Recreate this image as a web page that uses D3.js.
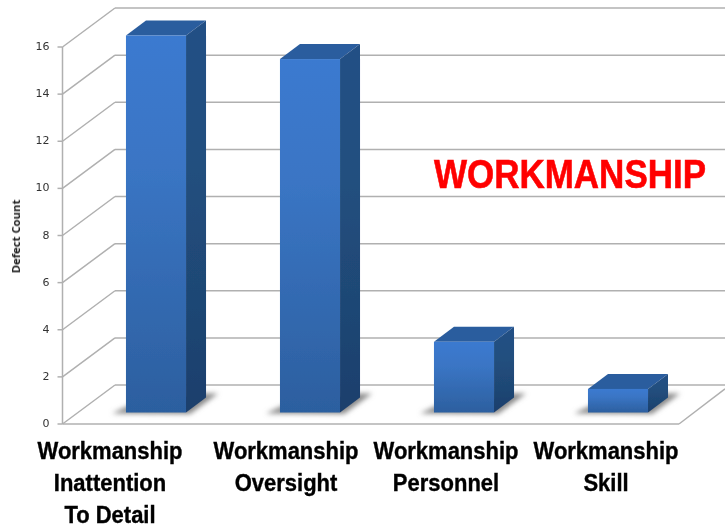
<!DOCTYPE html>
<html><head><meta charset="utf-8">
<script src="https://cdnjs.cloudflare.com/ajax/libs/d3/7.8.5/d3.min.js"></script>
<style>html,body{margin:0;padding:0;background:#fff}svg{display:block}</style>
</head><body><div id="c"></div>
<script>
const categories=[["Workmanship","Inattention","To Detail"],["Workmanship","Oversight"],["Workmanship","Personnel"],["Workmanship","Skill"]];
const values=[16,15,3,1];
const yTicks=[0,2,4,6,8,10,12,14,16];
const chartTitle="WORKMANSHIP";
const yTitle="Defect Count";

const W=725,H=527;
const svg=d3.select("#c").append("svg").attr("width",W).attr("height",H);
const y=d3.scaleLinear().domain([0,16]).range([424,47]);
const x=d3.scaleBand().domain(d3.range(values.length)).range([79,695]).paddingInner(.61).paddingOuter(.305);
const wallDx=52.5,wallDy=-39,floorRight=679;
const barDx=20,barDy=-15,barLift=-11.5;
const defs=svg.append("defs");
const mk=(id,a,b,c)=>{const g=defs.append("linearGradient").attr("id",id).attr("x1",0).attr("x2",0).attr("y1",0).attr("y2",1);
 g.append("stop").attr("offset",0).attr("stop-color",a);g.append("stop").attr("offset",.35).attr("stop-color",b);g.append("stop").attr("offset",1).attr("stop-color",c);};
mk("front","#3a7ad0","#3a75c4","#2c5f9f");
mk("side","#234f85","#22507f","#1c3f6c");
defs.append("filter").attr("id","blur").attr("x","-30%").attr("y","-60%").attr("width","160%").attr("height","220%").append("feGaussianBlur").attr("stdDeviation",2.4);
const soft=defs.append("filter").attr("id","soft").attr("x","-5%").attr("y","-5%").attr("width","110%").attr("height","110%");
soft.append("feGaussianBlur").attr("stdDeviation",.45);

const grid=svg.append("g").attr("stroke","#b0b0b0").attr("stroke-width",1.5).attr("fill","none").attr("filter","url(#soft)");
yTicks.forEach(t=>{
  const yy=y(t);
  grid.append("line").attr("x1",62.5).attr("y1",yy).attr("x2",62.5+wallDx).attr("y2",yy+wallDy);
  grid.append("line").attr("x1",62.5+wallDx).attr("y1",yy+wallDy).attr("x2",W).attr("y2",yy+wallDy);
  grid.append("line").attr("x1",57.5).attr("y1",yy).attr("x2",62.5).attr("y2",yy);
});
grid.append("line").attr("x1",62.5).attr("y1",y(16)).attr("x2",62.5).attr("y2",y(0));
grid.append("line").attr("x1",62.5).attr("y1",y(0)).attr("x2",floorRight).attr("y2",y(0));
grid.append("line").attr("x1",floorRight).attr("y1",y(0)).attr("x2",W).attr("y2",y(0)+wallDy*.9);

const axisText=svg.append("g").attr("font-family","'DejaVu Sans',sans-serif").attr("font-size",11).attr("fill","#333").attr("text-anchor","end").attr("filter","url(#soft)");
yTicks.forEach(t=>axisText.append("text").attr("x",49.5).attr("y",y(t)+3).text(t));
svg.append("text").attr("transform","translate(20,236.5) rotate(-90)").attr("text-anchor","middle")
  .attr("font-family","'Open Sans',sans-serif").attr("font-size",11.3).attr("font-weight","bold").attr("fill","#222").attr("filter","url(#soft)").text(yTitle);

const pts=a=>a.map(p=>p.join(",")).join(" ");
const bars=svg.append("g").selectAll("g").data(values).join("g");
bars.each(function(v,i){
  const g=d3.select(this),x0=x(i),x1=x0+x.bandwidth(),b=y(0)+barLift,t=y(v)+barLift;
  g.append("polygon").attr("filter","url(#blur)").attr("fill","#8a8a8a")
    .attr("points",pts([[x0-14,b+1],[x0+3,b-7],[x1+14,b-19],[x1+32,b-19],[x1+4,b+1.5]]));
  const f=g.append("g").attr("filter","url(#soft)");
  f.append("polygon").attr("fill","#2a5d9e").attr("points",pts([[x0,t],[x1,t],[x1+barDx,t+barDy],[x0+barDx,t+barDy]]));
  f.append("polygon").attr("fill","url(#side)").attr("points",pts([[x1,t],[x1+barDx,t+barDy],[x1+barDx,b+barDy],[x1,b]]));
  f.append("rect").attr("x",x0).attr("y",t).attr("width",x.bandwidth()).attr("height",b-t).attr("fill","url(#front)");
});

const labels=svg.append("g").attr("font-family","'Liberation Sans',Arial,sans-serif").attr("font-weight","bold").attr("font-size",22).attr("fill","#000").attr("stroke","#000").attr("stroke-width",.35).attr("text-anchor","middle").attr("filter","url(#soft)");
const labelCx=[110,286,446,606];
categories.forEach((lines,i)=>lines.forEach((s,j)=>labels.append("text").attr("transform",`translate(${labelCx[i]},${459+j*32}) scale(1,1.08)`).text(s)));
svg.append("text").attr("transform","translate(570,188) scale(1,1.17)").attr("text-anchor","middle").attr("font-family","'Liberation Sans',Arial,sans-serif").attr("font-weight","bold").attr("font-size",35).attr("fill","#ff0000").attr("stroke","#ff0000").attr("stroke-width",.5).attr("filter","url(#soft)").text(chartTitle);
</script></body></html>
